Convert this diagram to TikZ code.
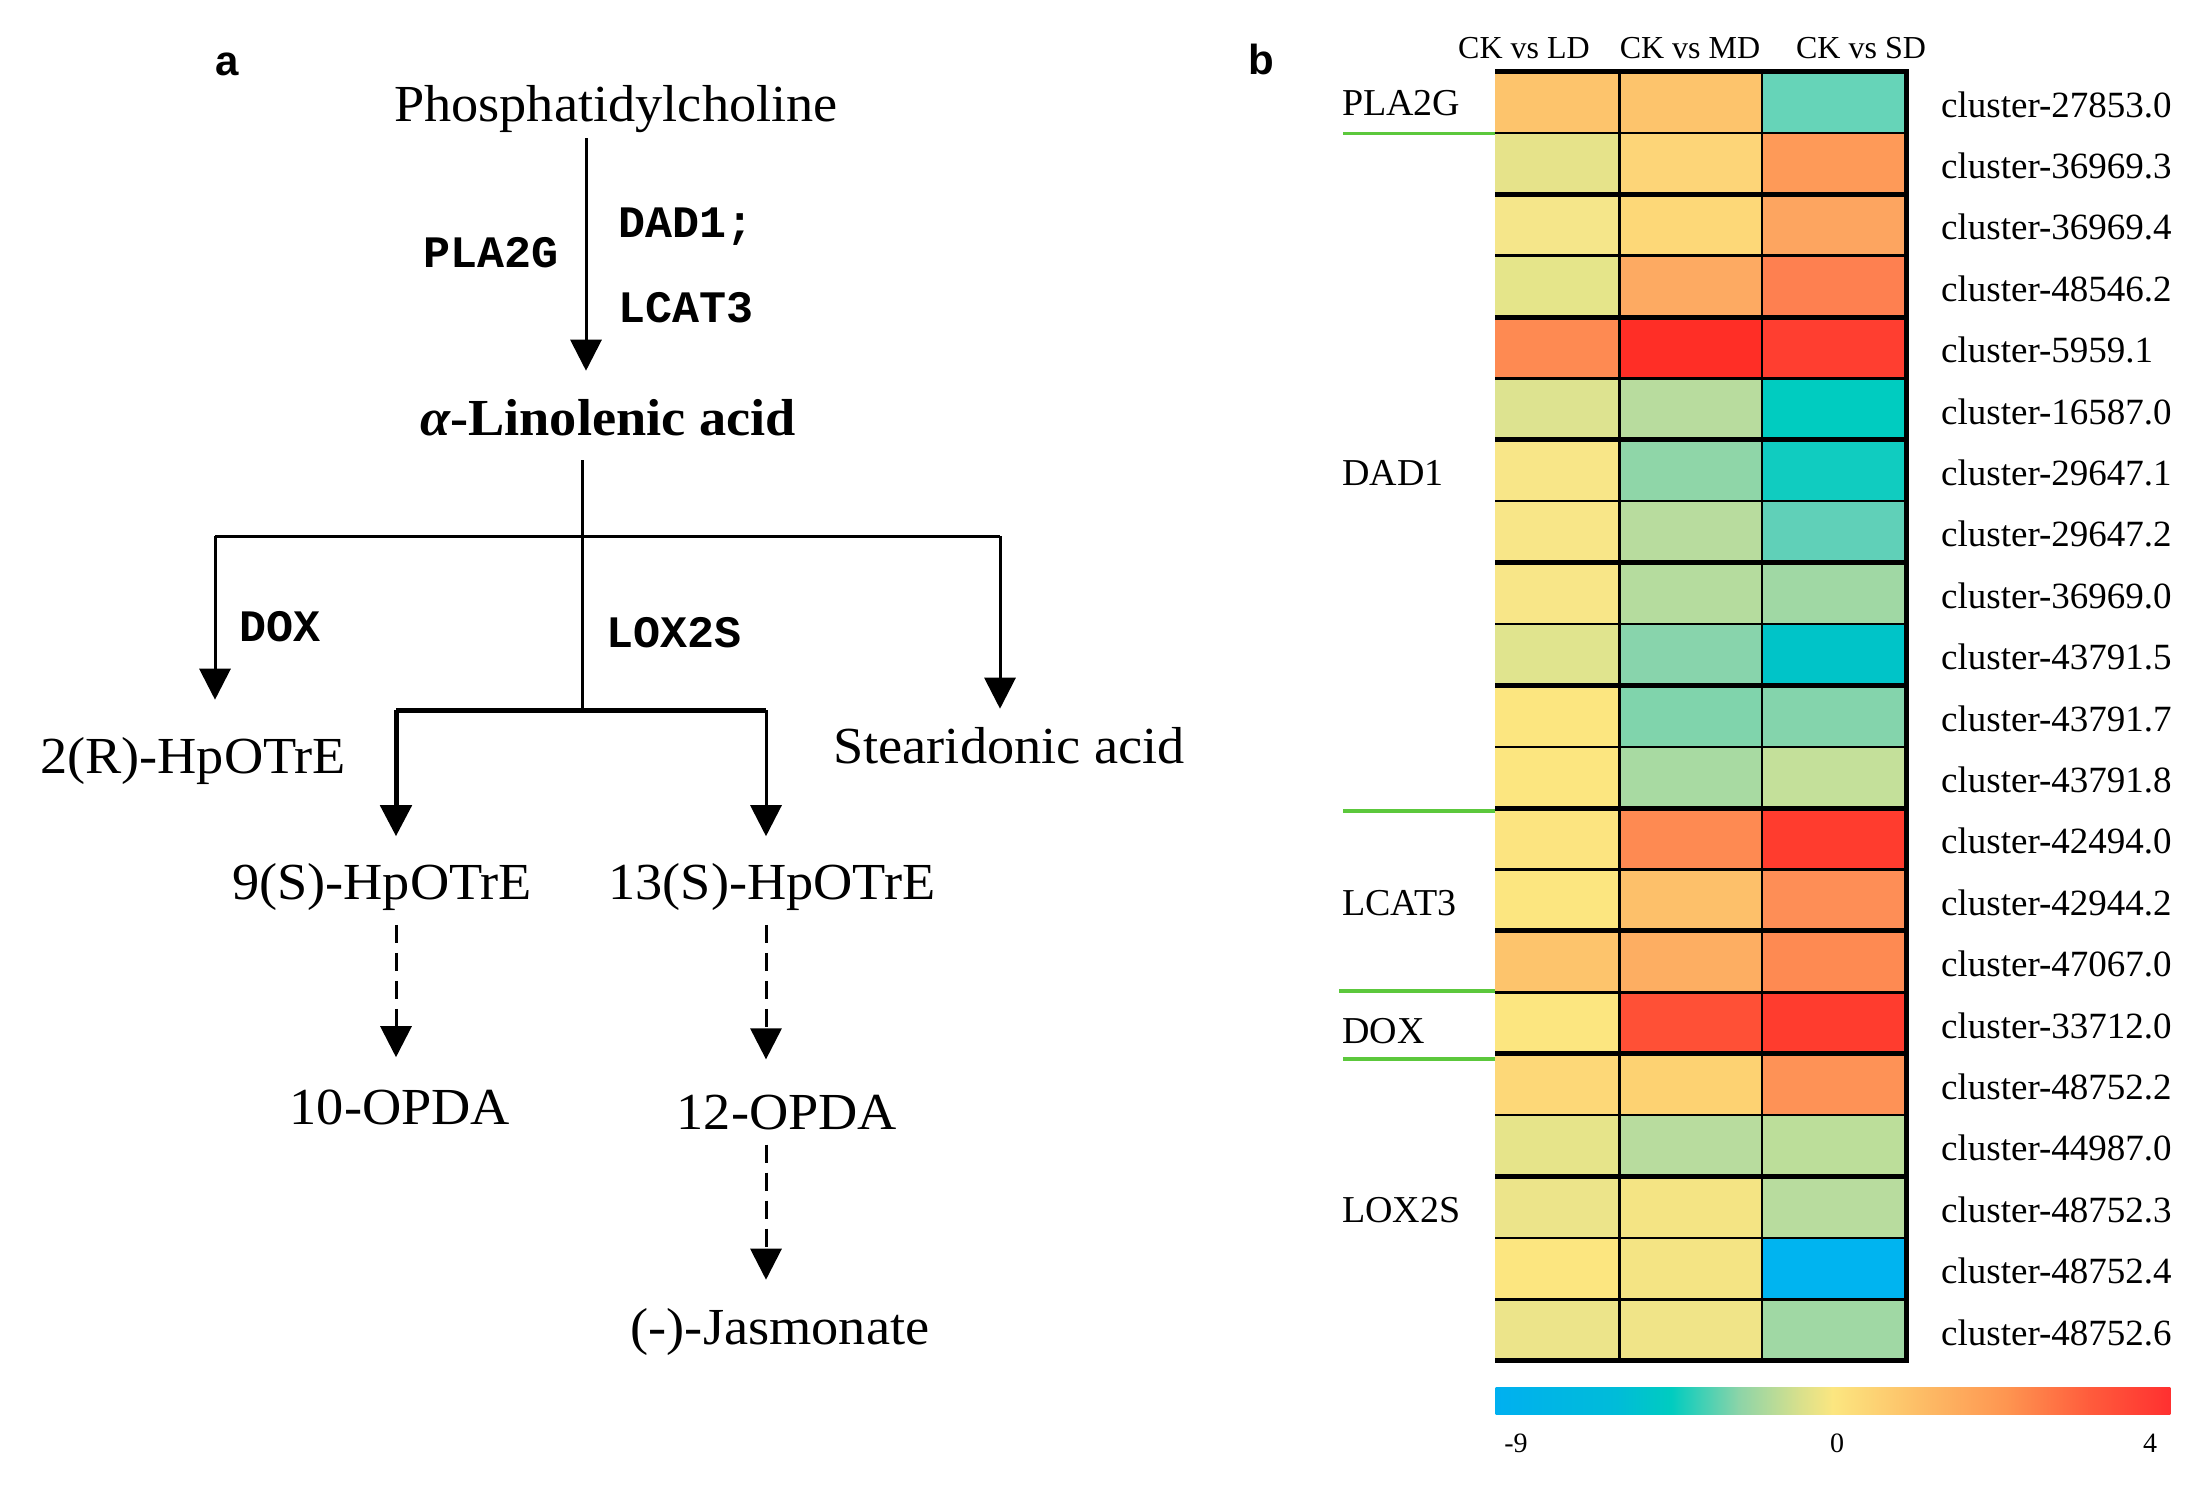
\documentclass[tikz,border=0pt]{standalone}
\usepackage{fontspec}
\setmainfont{Liberation Serif}
\newfontfamily\lserif[FakeStretch=1.045]{Liberation Serif}
\newfontfamily\monof{Liberation Mono}
\newfontfamily\sansf{Liberation Sans}
\usetikzlibrary{arrows.meta}
\definecolor{grn}{HTML}{5CC83C}
\begin{document}
\begin{tikzpicture}[x=1pt,y=-1pt,
  lbl/.style={font=\lserif\fontsize{52}{56}\selectfont, inner sep=0pt, anchor=base},
  blbl/.style={font=\lserif\bfseries\fontsize{52}{56}\selectfont, inner sep=0pt, anchor=base},
  enz/.style={font=\monof\bfseries\fontsize{45}{48}\selectfont, inner sep=0pt, anchor=base west},
  panel/.style={font=\sansf\bfseries\fontsize{42}{44}\selectfont, inner sep=0pt, anchor=base},
  flow/.style={line width=3pt, -{Triangle[length=31pt,width=31pt]}},
  dashflow/.style={flow, dash pattern=on 18pt off 10pt},
  bar/.style={line width=3pt},
  thickbar/.style={line width=5pt},
  hdr/.style={font=\fontsize{32}{34}\selectfont, inner sep=0pt, anchor=base},
  clus/.style={font=\fontsize{37}{40}\selectfont, inner sep=0pt, anchor=base west},
  gene/.style={font=\fontsize{38}{40}\selectfont, inner sep=0pt, anchor=base west},
  tick/.style={font=\fontsize{28}{30}\selectfont, inner sep=0pt, anchor=base},
  grline/.style={grn, line width=4pt}
]
\useasboundingbox (0,0) rectangle (2206,1492);

% ---------------- panel a ----------------
\node[panel] (pa) at (227,75) {a};
\node[lbl] (phc) at (616,121) {Phosphatidylcholine};
\node[blbl] (ala) at (608,435) {{\itshape α}-Linolenic acid};
\node[lbl] (hr) at (193,773) {2(R)-HpOTrE};
\node[lbl] (sda) at (1009,763) {Stearidonic acid};
\node[lbl] (h9) at (382,899.5) {9(S)-HpOTrE};
\node[lbl] (h13) at (772,899.5) {13(S)-HpOTrE};
\node[lbl] (o10) at (400,1124) {10-OPDA};
\node[lbl] (o12) at (787,1129) {12-OPDA};
\node[lbl] (jas) at (780,1344) {(-)-Jasmonate};

\node[enz] (e1) at (423,267) {PLA2G};
\node[enz] (e2) at (618,237.5) {DAD1;};
\node[enz] (e3) at (618,322) {LCAT3};
\node[enz] (e4) at (239,641) {DOX};
\node[enz] (e5) at (606,647) {LOX2S};

\coordinate (s1) at (586,138);
\coordinate (b0) at (582,460);
\coordinate (b1) at (582,536);
\coordinate (b2) at (582,710);
\coordinate (bl) at (215,536);
\coordinate (br) at (1000,536);
\coordinate (cl) at (396,710);
\coordinate (cr) at (766,710);

\draw[flow, shorten >=28pt] (s1) -- (s1 |- ala.north);
\draw[bar] (b0) -- (b2);
\draw[bar] (bl) -- (br);
\draw[flow, shorten >=37pt] (bl) -- (bl |- hr.north);
\draw[flow, shorten >=18pt] (br) -- (br |- sda.north);
\draw[thickbar] (cl) -- (cr);
\draw[flow, line width=5pt, shorten >=27pt] (cl) -- (cl |- h9.north);
\draw[flow, shorten >=27pt] (cr) -- (cr |- h13.north);
\draw[dashflow, shorten <=14pt, shorten >=32pt] (cl |- h9.south) -- (cl |- o10.north);
\draw[dashflow, shorten <=14pt, shorten >=35pt] (cr |- h13.south) -- (cr |- o12.north);
\draw[dashflow, shorten <=15pt, shorten >=28pt] (cr |- o12.south) -- (cr |- jas.north);

% ---------------- panel b ----------------
\node[panel] (pb) at (1261,74) {b};
\node[hdr] (c1) at (1524,58) {CK vs LD};
\node[hdr] (c2) at (1690,58) {CK vs MD};
\node[hdr] (c3) at (1861,58) {CK vs SD};

\foreach \r/\a/\b/\c/\nm in {
 1/FDC46C/FDC46C/66D4B8/27853.0,
 2/E6E38A/FDD578/FE9A58/36969.3,
 3/F5E68A/FDD878/FDA560/36969.4,
 4/E5E58A/FDAA62/FE8050/48546.2,
 5/FE8A52/FF2E26/FF3E30/5959.1,
 6/DDE390/B8DC9E/00CCC0/16587.0,
 7/F8E688/8FD6A8/10CCC0/29647.1,
 8/F8E688/B8DC9E/60D0B8/29647.2,
 9/F8E688/B5DC9E/A0D8A4/36969.0,
 10/E0E48E/88D4AC/00C4C8/43791.5,
 11/FCE680/80D4AC/84D4AC/43791.7,
 12/FCE680/A8DAA2/C4E09A/43791.8,
 13/FCE480/FE8A52/FF3C2E/42494.0,
 14/FCE680/FDC06A/FE8E56/42944.2,
 15/FDC46C/FDAE62/FE8A52/47067.0,
 16/FCE680/FF5036/FF3C2E/33712.0,
 17/FDD878/FDD272/FE9256/48752.2,
 18/E6E48A/B8DC9E/BCDE9A/44987.0,
 19/ECE48A/F4E484/B8DC9E/48752.3,
 20/FCE680/F4E484/00B4F0/48752.4,
 21/ECE48A/F0E488/A0D8A4/48752.6}{
  \pgfmathsetmacro\yt{71.5+61.39*(\r-1)}
  \pgfmathsetmacro\yb{71.5+61.39*\r}
  \definecolor{ca}{HTML}{\a}
  \definecolor{cb}{HTML}{\b}
  \definecolor{cc}{HTML}{\c}
  \fill[ca] (1495,\yt) rectangle (1619.5,\yb);
  \fill[cb] (1619.5,\yt) rectangle (1762,\yb);
  \fill[cc] (1762,\yt) rectangle (1906,\yb);
  \node[clus] (cl\r) at (1941,{\yt+30.7+15}) {cluster-\nm};
}
% grid lines
\foreach \r/\w in {1/2.5,2/5,3/3,4/5,5/2.5,6/5,7/2.5,8/5,9/2.5,10/5,11/2.5,12/5,13/2.5,14/5,15/2.5,16/5,17/2.5,18/5,19/2.5,20/3}{
  \pgfmathsetmacro\yy{71.5+61.39*\r}
  \draw[line width=\w pt] (1495,\yy) -- (1906,\yy);
}
\draw[line width=2.5pt] (1619.5,71.5) -- (1619.5,1360.7);
\draw[line width=2.5pt] (1762,71.5) -- (1762,1360.7);
\draw[line width=5pt] (1495,71.5) -- (1906,71.5) -- (1906,1360.7) -- (1495,1360.7);

% gene groups
\node[gene] (g1) at (1342,115) {PLA2G};
\node[gene] (g2) at (1342,485) {DAD1};
\node[gene] (g3) at (1342,915) {LCAT3};
\node[gene] (g4) at (1342,1043) {DOX};
\node[gene] (g5) at (1342,1222) {LOX2S};
\draw[grn, line width=3pt] (1343,133) -- (1495,133);
\draw[grline] (1343,811) -- (1495,811);
\draw[grline] (1339,991) -- (1495,991);
\draw[grline] (1343,1059) -- (1495,1059);

% colour bar
\foreach \fa/\ca/\fb/\cbb in {0/00B0F0/0.18/00BCD8, 0.18/00BCD8/0.26/00CCC0, 0.26/00CCC0/0.36/8CD4A8, 0.36/8CD4A8/0.45/D8E08C, 0.45/D8E08C/0.50/FCE680, 0.50/FCE680/0.62/FDC068, 0.62/FDC068/0.76/FE9450, 0.76/FE9450/0.88/FF5C3C, 0.88/FF5C3C/1.0/FF3030}{
  \definecolor{la}{HTML}{\ca}
  \definecolor{lb}{HTML}{\cbb}
  \pgfmathsetmacro\xa{1496+\fa*674-0.3}
  \pgfmathsetmacro\xb{1496+\fb*674+0.3}
  \shade[left color=la, right color=lb] (\xa,1387) rectangle (\xb,1414);
}
\node[tick] (t1) at (1516,1452) {-9};
\node[tick] (t2) at (1837,1452) {0};
\node[tick] (t3) at (2150,1452) {4};
\end{tikzpicture}
\end{document}
